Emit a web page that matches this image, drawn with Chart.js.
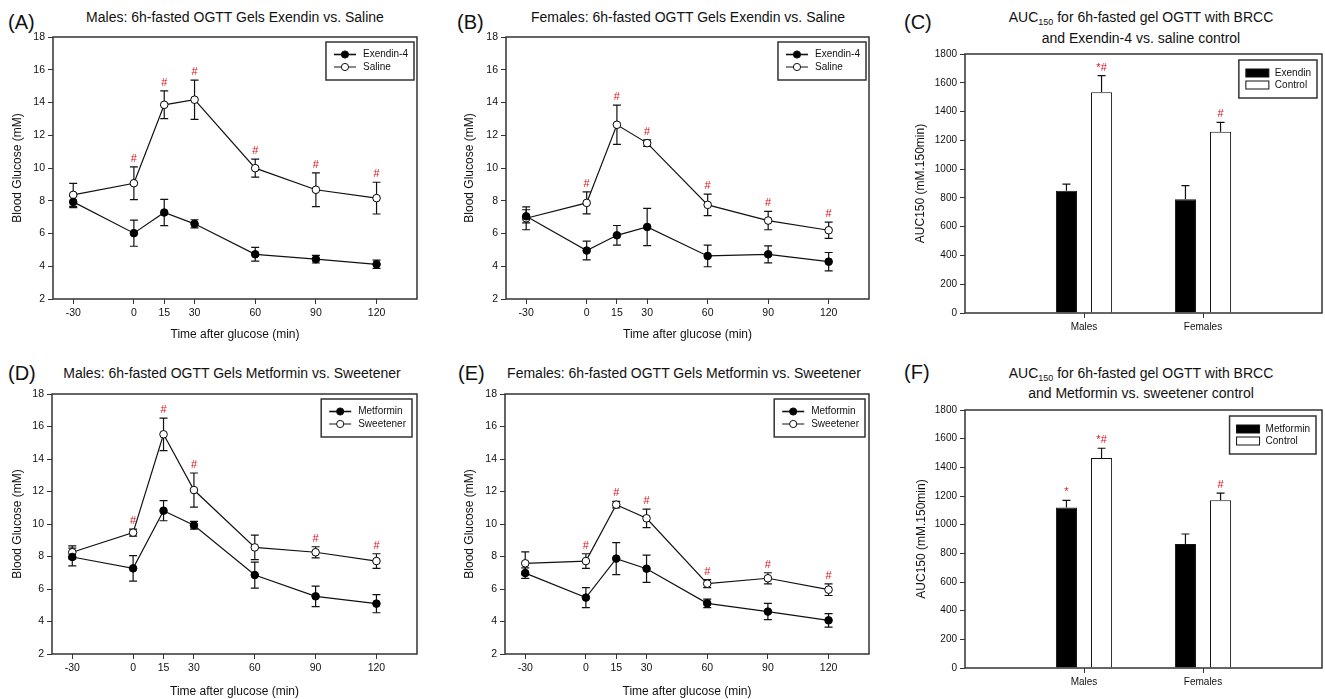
<!DOCTYPE html>
<html>
<head>
<meta charset="utf-8">
<script src="https://cdn.jsdelivr.net/npm/chart.js@4/dist/chart.umd.min.js"></script>
<style>
body { margin:0; background:#fff; width:1325px; height:699px; overflow:hidden; position:relative; font-family:'Liberation Sans', Arial, sans-serif; color:#111; }
canvas { position:absolute; }
.ttl { position:absolute; font-size:14px; white-space:nowrap; transform:translate(-50%,-50%); }
.ttl sub { font-size:9px; vertical-align:-3px; line-height:0; }
.lbl { position:absolute; font-size:20px; transform:translateY(-50%); }
</style>
</head>
<body>
<div class="lbl" style="left:8px;top:22px">(A)</div>
<div class="ttl" style="left:235px;top:17px">Males: 6h-fasted OGTT Gels Exendin vs. Saline</div>
<div class="lbl" style="left:457px;top:22px">(B)</div>
<div class="ttl" style="left:688px;top:17px">Females: 6h-fasted OGTT Gels Exendin vs. Saline</div>
<div class="lbl" style="left:904px;top:22px">(C)</div>
<div class="ttl" style="left:1141px;top:17px">AUC<sub>150</sub> for 6h-fasted gel OGTT with BRCC</div>
<div class="ttl" style="left:1141px;top:38px">and Exendin-4 vs. saline control</div>
<div class="lbl" style="left:8px;top:373px">(D)</div>
<div class="ttl" style="left:232px;top:373px">Males: 6h-fasted OGTT Gels Metformin vs. Sweetener</div>
<div class="lbl" style="left:458px;top:373px">(E)</div>
<div class="ttl" style="left:684px;top:373px">Females: 6h-fasted OGTT Gels Metformin vs. Sweetener</div>
<div class="lbl" style="left:904px;top:372px">(F)</div>
<div class="ttl" style="left:1141px;top:373px">AUC<sub>150</sub> for 6h-fasted gel OGTT with BRCC</div>
<div class="ttl" style="left:1141px;top:393px">and Metformin vs. sweetener control</div>

<canvas id="cA" width="440" height="350" style="left:0;top:0"></canvas>
<canvas id="cB" width="440" height="350" style="left:440px;top:0"></canvas>
<canvas id="cC" width="445" height="350" style="left:880px;top:0"></canvas>
<canvas id="cD" width="440" height="349" style="left:0;top:350px"></canvas>
<canvas id="cE" width="440" height="349" style="left:440px;top:350px"></canvas>
<canvas id="cF" width="445" height="349" style="left:880px;top:350px"></canvas>

<script>
// time points (min)
const times = [-30, 0, 15, 30, 60, 90, 120];

// (A) males, exendin vs saline
const aExendin = [7.93, 6.02, 7.28, 6.59, 4.73, 4.43, 4.12];
const aExendinSem = [0.35, 0.8, 0.8, 0.25, 0.42, 0.23, 0.25];
const aSaline = [8.36, 9.07, 13.86, 14.17, 9.99, 8.67, 8.16];
const aSalineSem = [0.7, 1.0, 0.85, 1.2, 0.55, 1.03, 0.97];
const aHash = [0, 1, 1, 1, 1, 1, 1];

// (B) females, exendin vs saline
const bExendin = [7.05, 4.96, 5.89, 6.40, 4.63, 4.73, 4.28];
const bExendinSem = [0.4, 0.57, 0.6, 1.14, 0.66, 0.52, 0.56];
const bSaline = [6.93, 7.87, 12.64, 11.52, 7.75, 6.79, 6.20];
const bSalineSem = [0.7, 0.67, 1.2, 0.2, 0.66, 0.56, 0.5];
const bHash = [0, 1, 1, 1, 1, 1, 1];

// (D) males, metformin vs sweetener
const dMetformin = [7.97, 7.27, 10.82, 9.92, 6.86, 5.55, 5.10];
const dMetforminSem = [0.55, 0.78, 0.62, 0.24, 0.8, 0.63, 0.56];
const dSweetener = [8.26, 9.47, 15.52, 12.09, 8.56, 8.26, 7.72];
const dSweetenerSem = [0.4, 0.22, 1.0, 1.05, 0.75, 0.34, 0.45];
const dHash = [0, 1, 1, 1, 0, 1, 1];

// (E) females, metformin vs sweetener
const eMetformin = [6.98, 5.47, 7.87, 7.25, 5.12, 4.61, 4.07];
const eMetforminSem = [0.32, 0.62, 0.98, 0.84, 0.26, 0.5, 0.41];
const eSweetener = [7.58, 7.72, 11.19, 10.35, 6.33, 6.66, 5.96];
const eSweetenerSem = [0.7, 0.45, 0.2, 0.57, 0.25, 0.34, 0.36];
const eHash = [0, 1, 1, 1, 1, 1, 1];

// AUC150 bars
const aucGroups = ['Males', 'Females'];
const cExendin = [850, 790];
const cExendinSem = [45, 95];
const cExendinMarks = ['', ''];
const cControl = [1535, 1260];
const cControlSem = [115, 65];
const cControlMarks = ['*#', '#'];

const fMetformin = [1120, 865];
const fMetforminSem = [50, 70];
const fMetforminMarks = ['*', ''];
const fControl = [1465, 1170];
const fControlSem = [68, 50];
const fControlMarks = ['*#', '#'];

Chart.defaults.font.family = "'Liberation Sans', Arial, sans-serif";
Chart.defaults.color = '#111';

const INK = '#111';
const RED = '#e3101a';

function drawFrame(chart) {
    const {ctx, chartArea: a} = chart;
    ctx.save();
    ctx.strokeStyle = '#333';
    ctx.lineWidth = 1.5;
    ctx.strokeRect(a.left, a.top, a.right - a.left, a.bottom - a.top);
    ctx.restore();
}

function drawLegend(chart, items, st) {
    const {ctx, chartArea} = chart;
    ctx.save();
    ctx.font = "10px 'Liberation Sans', Arial, sans-serif";
    const tw = Math.max(...items.map(it => ctx.measureText(it.label).width));
    const w = st.textX + tw + 6;
    const left = chartArea.right - st.right - w;
    const top = chartArea.top + st.top;
    ctx.fillStyle = '#fff';
    ctx.fillRect(left, top, w, 38);
    ctx.strokeStyle = '#333';
    ctx.lineWidth = 1.5;
    ctx.strokeRect(left, top, w, 38);
    items.forEach((it, k) => {
        const yy = top + st.rows[k];
        ctx.strokeStyle = INK;
        ctx.lineWidth = 1;
        if (st.kind === 'line') {
            ctx.lineWidth = it.filled ? 1.6 : 1;
            ctx.beginPath();
            ctx.moveTo(left + 8, yy);
            ctx.lineTo(left + 30, yy);
            ctx.stroke();
            ctx.lineWidth = 1;
            ctx.beginPath();
            ctx.arc(left + 19, yy, 3.6, 0, Math.PI * 2);
            ctx.fillStyle = it.filled ? '#000' : '#fff';
            ctx.fill();
            ctx.stroke();
        } else {
            ctx.fillStyle = it.filled ? '#000' : '#fff';
            ctx.fillRect(left + 7, yy - 4, 23, 8);
            ctx.strokeRect(left + 7, yy - 4, 23, 8);
        }
        ctx.fillStyle = INK;
        ctx.textAlign = 'left';
        ctx.textBaseline = 'middle';
        ctx.fillText(it.label, left + st.textX, yy);
    });
    ctx.restore();
}

function lineChart(id, box, names, s1, s2, hash) {
    const series = [s1, s2];
    new Chart(document.getElementById(id), {
        type: 'line',
        data: {
            datasets: series.map((s, k) => ({
                label: names[k],
                data: times.map((t, i) => ({x: t, y: s.mean[i]})),
                borderColor: INK,
                borderWidth: 1.2,
                pointRadius: 3.8,
                pointBorderWidth: 1,
                pointBorderColor: '#000',
                pointBackgroundColor: k === 0 ? '#000' : '#fff'
            }))
        },
        options: {
            responsive: false,
            animation: false,
            layout: {padding: {left: 0, top: box.t, right: box.w - box.r, bottom: 0}},
            plugins: {legend: {display: false}, tooltip: {enabled: false}},
            scales: {
                x: {
                    type: 'linear', min: -40, max: 140,
                    afterBuildTicks: s => { s.ticks = times.map(v => ({value: v})); },
                    afterFit: s => { s.height = box.h - box.b; },
                    grid: {drawOnChartArea: false, tickLength: 5, color: '#333'},
                    border: {display: false},
                    ticks: {padding: 3, autoSkip: false, maxRotation: 0, font: {size: 10.5}, color: INK},
                    title: {display: true, text: 'Time after glucose (min)', color: INK,
                            font: {size: 12}, padding: {top: 0, bottom: box.xPad}}
                },
                y: {
                    min: 2, max: 18,
                    afterFit: s => { s.width = box.l; },
                    grid: {drawOnChartArea: false, tickLength: 5, color: '#333'},
                    border: {display: false},
                    ticks: {stepSize: 2, padding: 3, font: {size: 10.5}, color: INK},
                    title: {display: true, text: 'Blood Glucose (mM)', color: INK,
                            font: {size: 12}, padding: {top: box.yPad, bottom: 0}}
                }
            }
        },
        plugins: [{
            id: 'extras',
            beforeDatasetsDraw(chart) {
                const {ctx, scales: {x, y}} = chart;
                ctx.save();
                ctx.strokeStyle = INK;
                ctx.lineWidth = 1.2;
                series.forEach(s => {
                    s.mean.forEach((m, i) => {
                        const px = x.getPixelForValue(times[i]);
                        const hi = y.getPixelForValue(m + s.sem[i]);
                        const lo = y.getPixelForValue(m - s.sem[i]);
                        ctx.beginPath();
                        ctx.moveTo(px, hi); ctx.lineTo(px, lo);
                        ctx.moveTo(px - 4, hi); ctx.lineTo(px + 4, hi);
                        ctx.moveTo(px - 4, lo); ctx.lineTo(px + 4, lo);
                        ctx.stroke();
                    });
                });
                ctx.restore();
            },
            afterDraw(chart) {
                const {ctx, scales: {x, y}} = chart;
                drawFrame(chart);
                ctx.save();
                ctx.fillStyle = RED;
                ctx.font = "11px 'Liberation Sans', Arial, sans-serif";
                ctx.textAlign = 'center';
                ctx.textBaseline = 'middle';
                hash.forEach((h, i) => {
                    if (!h) return;
                    const top = Math.max(...series.map(s => s.mean[i] + s.sem[i]));
                    ctx.fillText('#', x.getPixelForValue(times[i]), y.getPixelForValue(top) - 8);
                });
                ctx.restore();
                drawLegend(chart, [{label: names[0], filled: true}, {label: names[1], filled: false}],
                    {kind: 'line', right: box.legR, top: 5, textX: 37, rows: [12.5, 25]});
            }
        }]
    });
}

function barChart(id, box, names, s1, s2) {
    const series = [s1, s2];
    new Chart(document.getElementById(id), {
        type: 'bar',
        data: {
            datasets: series.map((s, k) => ({
                label: names[k],
                data: s.mean.map((v, i) => ({x: i + 1, y: v})),
                backgroundColor: k === 0 ? '#000' : '#fff',
                borderColor: INK,
                borderWidth: 1,
                categoryPercentage: 0.59,
                barPercentage: 0.6
            }))
        },
        options: {
            responsive: false,
            animation: false,
            layout: {padding: {left: 0, top: box.t, right: box.w - box.r, bottom: 0}},
            plugins: {legend: {display: false}, tooltip: {enabled: false}},
            scales: {
                x: {
                    type: 'linear', min: 0, max: 3, offset: false,
                    afterBuildTicks: s => { s.ticks = aucGroups.map((g, i) => ({value: i + 1})); },
                    afterFit: s => { s.height = box.h - box.b; },
                    grid: {offset: false, drawOnChartArea: false, tickLength: 5, color: '#333'},
                    border: {display: false},
                    ticks: {padding: 3.5, autoSkip: false, maxRotation: 0, font: {size: 10}, color: INK,
                            callback: v => aucGroups[v - 1]}
                },
                y: {
                    min: 0, max: 1800,
                    afterFit: s => { s.width = box.l; },
                    grid: {drawOnChartArea: false, tickLength: 5, color: '#333'},
                    border: {display: false},
                    ticks: {stepSize: 200, padding: 3, font: {size: 10}, color: INK,
                            callback: v => String(v)},
                    title: {display: true, text: 'AUC150 (mM.150min)', color: INK,
                            font: {size: 12}, padding: {top: box.yPad, bottom: 0}}
                }
            }
        },
        plugins: [{
            id: 'extras',
            afterDatasetsDraw(chart) {
                const {ctx, scales: {y}} = chart;
                ctx.save();
                series.forEach((s, k) => {
                    const meta = chart.getDatasetMeta(k);
                    s.mean.forEach((m, i) => {
                        const bar = meta.data[i];
                        const top = y.getPixelForValue(m + s.sem[i]);
                        ctx.strokeStyle = INK;
                        ctx.lineWidth = 1.2;
                        ctx.beginPath();
                        ctx.moveTo(bar.x, bar.y); ctx.lineTo(bar.x, top);
                        ctx.moveTo(bar.x - 4, top); ctx.lineTo(bar.x + 4, top);
                        ctx.stroke();
                        if (s.marks[i]) {
                            ctx.fillStyle = RED;
                            ctx.font = "11px 'Liberation Sans', Arial, sans-serif";
                            ctx.textAlign = 'center';
                            ctx.textBaseline = 'middle';
                            ctx.fillText(s.marks[i], bar.x, top - 8);
                        }
                    });
                });
                ctx.restore();
            },
            afterDraw(chart) {
                drawFrame(chart);
                drawLegend(chart, [{label: names[0], filled: true}, {label: names[1], filled: false}],
                    {kind: 'bar', right: box.legR, top: 6, textX: 36, rows: [13, 25]});
            }
        }]
    });
}

lineChart('cA', {w: 440, h: 350, l: 53, t: 37, r: 417, b: 299, xPad: 7.8, yPad: 10.8, legR: 3},
    ['Exendin-4', 'Saline'],
    {mean: aExendin, sem: aExendinSem}, {mean: aSaline, sem: aSalineSem}, aHash);
lineChart('cB', {w: 440, h: 350, l: 66, t: 37, r: 429, b: 299, xPad: 7.8, yPad: 22.8, legR: 3},
    ['Exendin-4', 'Saline'],
    {mean: bExendin, sem: bExendinSem}, {mean: bSaline, sem: bSalineSem}, bHash);
lineChart('cD', {w: 440, h: 349, l: 52, t: 44, r: 417, b: 304, xPad: 0, yPad: 10.8, legR: 5},
    ['Metformin', 'Sweetener'],
    {mean: dMetformin, sem: dMetforminSem}, {mean: dSweetener, sem: dSweetenerSem}, dHash);
lineChart('cE', {w: 440, h: 349, l: 65, t: 44, r: 429, b: 304, xPad: 0, yPad: 22.4, legR: 4},
    ['Metformin', 'Sweetener'],
    {mean: eMetformin, sem: eMetforminSem}, {mean: eSweetener, sem: eSweetenerSem}, eHash);

barChart('cC', {w: 445, h: 350, l: 85, t: 54, r: 442, b: 313, yPad: 33.8, legR: 5},
    ['Exendin', 'Control'],
    {mean: cExendin, sem: cExendinSem, marks: cExendinMarks},
    {mean: cControl, sem: cControlSem, marks: cControlMarks});
barChart('cF', {w: 445, h: 349, l: 85, t: 60, r: 442, b: 318, yPad: 34.8, legR: 6},
    ['Metformin', 'Control'],
    {mean: fMetformin, sem: fMetforminSem, marks: fMetforminMarks},
    {mean: fControl, sem: fControlSem, marks: fControlMarks});
</script>
</body>
</html>
